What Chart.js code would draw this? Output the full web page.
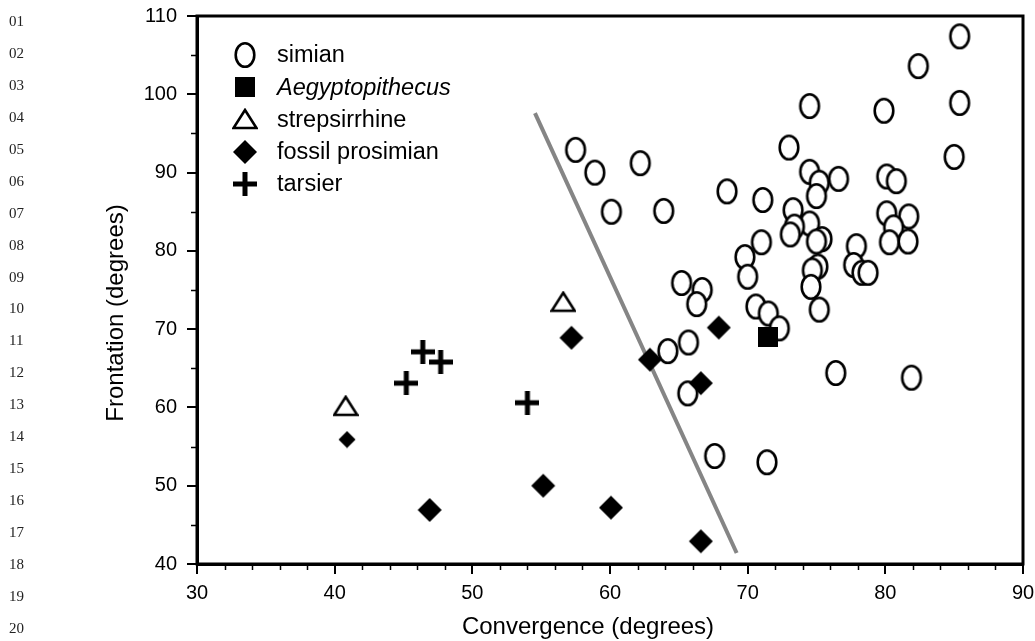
<!DOCTYPE html>
<html>
<head>
<meta charset="utf-8">
<script src="https://cdn.jsdelivr.net/npm/chart.js@4.4.1/dist/chart.umd.min.js"></script>
<style>
  html, body { margin: 0; padding: 0; background: #fff; }
  #wrap { position: relative; width: 1035px; height: 641px; }
</style>
</head>
<body>
<div id="wrap"><canvas id="chart" width="1035" height="641"></canvas></div>
<script>
// ── DATA ─────────────────────────────────────────────────────
const simianX = [85.4, 82.4, 85.4, 74.5, 79.9, 85.0, 57.5, 58.9, 62.2, 60.1, 63.9, 73.0, 68.5, 71.1,
  74.5, 75.2, 76.6, 75.0, 80.1, 80.8, 73.3, 80.1, 81.7, 80.6, 74.5, 73.4, 73.1, 75.4, 75.0, 80.3,
  81.65, 71.0, 77.9, 69.8, 70.0, 77.7, 78.3, 78.75, 75.1, 74.7, 74.6, 65.2, 66.7, 66.3, 70.6, 71.5,
  72.3, 75.2, 65.7, 64.2, 65.65, 76.4, 81.9, 67.6, 71.4];
const simianY = [107.4, 103.6, 98.9, 98.5, 97.9, 92.0, 92.9, 90.0, 91.2, 85.0, 85.1, 93.2, 87.6, 86.5,
  90.1, 88.7, 89.2, 87.0, 89.5, 88.9, 85.2, 84.8, 84.4, 83.0, 83.5, 83.1, 82.1, 81.5, 81.2, 81.1,
  81.2, 81.1, 80.6, 79.2, 76.7, 78.2, 77.2, 77.2, 78.0, 77.5, 75.4, 75.9, 75.0, 73.2, 72.9, 72.0,
  70.1, 72.5, 68.3, 67.2, 61.8, 64.4, 63.8, 53.8, 53.0];

const aegyptoX = [71.5];
const aegyptoY = [69.0];

const strepX = [40.8, 56.6];
const strepY = [60.2, 73.5];

// first point is the small diamond
const fossilX = [40.9, 46.9, 55.15, 57.2, 60.07, 62.9, 66.6, 66.6, 67.9];
const fossilY = [55.9, 46.9, 50.0, 68.9, 47.2, 66.1, 63.1, 42.9, 70.2];

const tarsierX = [45.2, 46.4, 47.7, 54.0];
const tarsierY = [63.1, 67.1, 65.8, 60.6];

// grey separating line (end points)
const lineX = [54.55, 69.2];
const lineY = [97.6, 41.4];

const legendLabels = ['simian', 'Aegyptopithecus', 'strepsirrhine', 'fossil prosimian', 'tarsier'];
const xTitle = 'Convergence (degrees)';
const yTitle = 'Frontation (degrees)';
const lineNumbers = ['01','02','03','04','05','06','07','08','09','10',
                     '11','12','13','14','15','16','17','18','19','20'];

const pts = (xs, ys) => xs.map((x, i) => ({ x, y: ys[i] }));
const FONT = "'Liberation Sans', Arial, sans-serif";

// ── MARKERS ──────────────────────────────────────────────────
function mk(w, h, draw) {
  const c = document.createElement('canvas');
  c.width = w; c.height = h;
  const g = c.getContext('2d');
  g.fillStyle = '#000'; g.strokeStyle = '#000';
  draw(g);
  return c;
}
const ellipseImg = mk(24, 30, g => {
  g.beginPath(); g.ellipse(12, 15, 9.3, 11.8, 0, 0, Math.PI * 2);
  g.fillStyle = '#fff'; g.fill();
  g.lineWidth = 2.6; g.stroke();
});
const squareImg = mk(20, 20, g => { g.fillRect(0, 0, 20, 20); });
const diamondImg = mk(26, 26, g => {
  g.beginPath(); g.moveTo(13, 1); g.lineTo(25, 13); g.lineTo(13, 25); g.lineTo(1, 13); g.closePath(); g.fill();
});
const smallDiamondImg = mk(18, 18, g => {
  g.beginPath(); g.moveTo(9, 0.5); g.lineTo(17.5, 9); g.lineTo(9, 17.5); g.lineTo(0.5, 9); g.closePath(); g.fill();
});
const triangleImg = mk(26, 22, g => {
  g.beginPath(); g.moveTo(13, 2); g.lineTo(24.5, 20); g.lineTo(1.5, 20); g.closePath();
  g.fillStyle = '#fff'; g.fill();
  g.lineWidth = 2.6; g.lineJoin = 'miter'; g.stroke();
});
const crossImg = mk(24, 24, g => { g.fillRect(0, 9.5, 24, 5); g.fillRect(9.5, 0, 5, 24); });

const legendMarkers = [ellipseImg, squareImg, triangleImg, diamondImg, crossImg];

Chart.defaults.font.family = FONT;
Chart.defaults.color = '#000';

// ── PLUGINS ──────────────────────────────────────────────────
const framePlugin = {
  id: 'frame',
  beforeDatasetsDraw(chart) {
    const { ctx, chartArea: a, scales: { x, y } } = chart;
    ctx.save();
    ctx.strokeStyle = '#000';
    ctx.lineWidth = 3;
    ctx.strokeRect(a.left, a.top, a.right - a.left, a.bottom - a.top);
    // minor ticks
    ctx.lineWidth = 1.5;
    ctx.beginPath();
    for (let v = 32; v < 90; v += 2) {
      if (v % 10 === 0) continue;
      const px = Math.round(x.getPixelForValue(v)) + 0.5;
      ctx.moveTo(px, a.bottom); ctx.lineTo(px, a.bottom + 6);
    }
    for (let v = 45; v < 110; v += 10) {
      const py = Math.round(y.getPixelForValue(v)) + 0.5;
      ctx.moveTo(a.left, py); ctx.lineTo(a.left - 6, py);
    }
    ctx.stroke();
    ctx.restore();
  }
};

const textPlugin = {
  id: 'texts',
  afterDraw(chart) {
    const { ctx } = chart;
    ctx.save();
    ctx.textBaseline = 'middle';
    ctx.fillStyle = '#000';
    // legend
    legendLabels.forEach((label, i) => {
      const cy = 55 + i * 32.2;
      const img = legendMarkers[i];
      ctx.drawImage(img, Math.round(245 - img.width / 2), Math.round(cy - img.height / 2));
      ctx.font = (i === 1 ? 'italic ' : '') + '23.5px ' + FONT;
      ctx.fillText(label, 277, cy + 1);
    });
    // axis titles
    ctx.font = '24px ' + FONT;
    ctx.textAlign = 'center';
    ctx.fillText(xTitle, 588, 627);
    ctx.translate(116, 313);
    ctx.rotate(-Math.PI / 2);
    ctx.fillText(yTitle, 0, 0);
    ctx.restore();
    // margin line numbers of the page
    ctx.save();
    ctx.textBaseline = 'middle';
    ctx.font = "15px 'Liberation Serif', 'DejaVu Serif', serif";
    ctx.fillStyle = '#222';
    lineNumbers.forEach((n, i) => ctx.fillText(n, 9, 22 + i * 31.95));
    ctx.restore();
  }
};

// ── CHART ────────────────────────────────────────────────────
new Chart(document.getElementById('chart'), {
  type: 'scatter',
  data: {
    datasets: [
      { label: 'line', data: pts(lineX, lineY), showLine: true, borderColor: '#858585', borderWidth: 4,
        pointRadius: 0, order: 10 },
      { label: 'simian', data: pts(simianX, simianY), pointStyle: ellipseImg, pointRadius: 10, order: 5 },
      { label: 'tarsier', data: pts(tarsierX, tarsierY), pointStyle: crossImg, pointRadius: 10, order: 4 },
      { label: 'strepsirrhine', data: pts(strepX, strepY), pointStyle: triangleImg, pointRadius: 10, order: 3 },
      { label: 'Aegyptopithecus', data: pts(aegyptoX, aegyptoY), pointStyle: squareImg, pointRadius: 10, order: 2 },
      { label: 'fossil prosimian', data: pts(fossilX, fossilY),
        pointStyle: c => c.dataIndex === 0 ? smallDiamondImg : diamondImg, pointRadius: 10, order: 1 },
    ]
  },
  options: {
    responsive: false,
    animation: false,
    devicePixelRatio: 1,
    layout: { padding: { top: 16, right: 12, left: 0, bottom: 0 } },
    plugins: { legend: { display: false }, tooltip: { enabled: false } },
    scales: {
      x: {
        type: 'linear', min: 30, max: 90,
        ticks: { stepSize: 10, font: { size: 20 }, color: '#000', padding: 7, maxRotation: 0 },
        grid: { drawOnChartArea: false, color: '#000', lineWidth: 2, tickLength: 10 },
        border: { color: '#000', width: 3 },
        afterFit: s => { s.height = 77; s.paddingLeft = 0; s.paddingRight = 12; }
      },
      y: {
        type: 'linear', min: 40, max: 110,
        ticks: { stepSize: 10, font: { size: 20 }, color: '#000', padding: 10 },
        grid: { drawOnChartArea: false, color: '#000', lineWidth: 2, tickLength: 10 },
        border: { color: '#000', width: 3 },
        afterFit: s => { s.width = 197; s.paddingTop = 16; s.paddingBottom = 0; }
      }
    }
  },
  plugins: [framePlugin, textPlugin]
});
</script>
</body>
</html>
